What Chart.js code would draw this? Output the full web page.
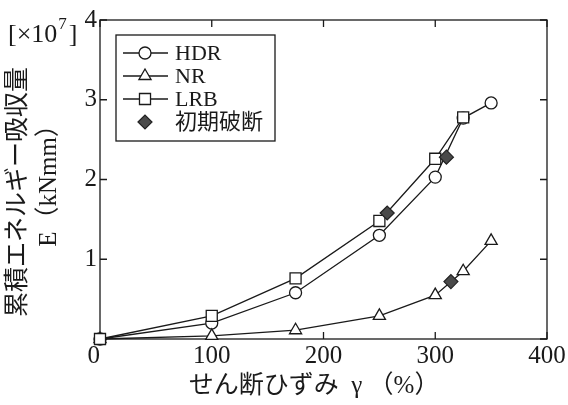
<!DOCTYPE html>
<html>
<head>
<meta charset="utf-8">
<script src="https://cdn.jsdelivr.net/npm/chart.js@4"></script>
<style>
  html, body { margin: 0; padding: 0; background: #fff; }
  #wrap { width: 568px; height: 405px; }
</style>
</head>
<body>
<div id="wrap"><canvas id="chart-energy"></canvas></div>
<script>
// strain (%) on x, accumulated energy (x10^7 kNmm) on y
var strainTicks = [0, 100, 200, 300, 400];
var energyTicks = [0, 1, 2, 3, 4];

var hdrStrain = [0, 100, 175, 250, 300, 325, 350];
var hdrEnergy = [0, 0.20, 0.58, 1.30, 2.03, 2.77, 2.96];
var nrStrain = [0, 100, 175, 250, 300, 325, 350];
var nrEnergy = [0, 0.04, 0.11, 0.29, 0.55, 0.85, 1.23];
var lrbStrain = [0, 100, 175, 250, 300, 325];
var lrbEnergy = [0, 0.29, 0.76, 1.48, 2.26, 2.78];
var breakStrain = [257, 310, 314];
var breakEnergy = [1.58, 2.28, 0.72];

var serif = "'Liberation Serif', 'Noto Sans CJK JP', serif";
var ink = '#1a1a1a';

function toPoints(xs, ys) {
  return xs.map(function(x, i) { return { x: x, y: ys[i] }; });
}

// box around the plot with inward ticks on all four sides
var framePlugin = {
  id: 'frame',
  beforeDatasetsDraw: function(chart) {
    var ctx = chart.ctx, a = chart.chartArea;
    var xs = chart.scales.x, ys = chart.scales.y;
    var len = 7;
    ctx.save();
    ctx.strokeStyle = ink;
    ctx.lineWidth = 1.3;
    ctx.strokeRect(a.left, a.top, a.right - a.left, a.bottom - a.top);
    ctx.beginPath();
    strainTicks.forEach(function(v) {
      var px = xs.getPixelForValue(v);
      ctx.moveTo(px, a.bottom); ctx.lineTo(px, a.bottom - len);
      ctx.moveTo(px, a.top); ctx.lineTo(px, a.top + len);
    });
    energyTicks.forEach(function(v) {
      var py = ys.getPixelForValue(v);
      ctx.moveTo(a.left, py); ctx.lineTo(a.left + len, py);
      ctx.moveTo(a.right, py); ctx.lineTo(a.right - len, py);
    });
    ctx.stroke();

    // unit label [x10^7]
    ctx.fillStyle = ink;
    ctx.textBaseline = 'alphabetic';
    ctx.font = '26px ' + serif;
    var t1 = '[\u00d710';
    ctx.fillText(t1, 8, 42);
    var w1 = ctx.measureText(t1).width;
    ctx.font = '17px ' + serif;
    ctx.fillText('7', 8 + w1 + 1, 29);
    var w2 = ctx.measureText('7').width;
    ctx.font = '26px ' + serif;
    ctx.fillText(']', 8 + w1 + w2 + 3, 42);
    ctx.restore();
  }
};

// boxed legend inside the plot, line + marker samples
var legendPlugin = {
  id: 'boxLegend',
  afterDraw: function(chart) {
    var ctx = chart.ctx, a = chart.chartArea;
    var x0 = a.left + 16, y0 = a.top + 15, w = 159, h = 106;
    ctx.save();
    ctx.strokeStyle = ink;
    ctx.lineWidth = 1.3;
    ctx.fillStyle = '#fff';
    ctx.fillRect(x0, y0, w, h);
    ctx.strokeRect(x0, y0, w, h);
    chart.data.datasets.forEach(function(ds, i) {
      var y = y0 + 18 + i * 23;
      ctx.strokeStyle = ds.borderColor;
      ctx.lineWidth = 1.3;
      if (ds.showLine) {
        ctx.beginPath();
        ctx.moveTo(x0 + 7, y);
        ctx.lineTo(x0 + 52, y);
        ctx.stroke();
      }
      ctx.fillStyle = ds.pointBackgroundColor;
      ctx.strokeStyle = ds.pointBorderColor;
      ctx.lineWidth = ds.pointBorderWidth;
      Chart.helpers.drawPoint(ctx, {
        pointStyle: ds.pointStyle,
        radius: ds.pointRadius,
        borderWidth: ds.pointBorderWidth,
        rotation: 0
      }, x0 + 29, y);
      ctx.fillStyle = ink;
      ctx.font = '22px ' + serif;
      ctx.textBaseline = 'middle';
      ctx.fillText(ds.label, x0 + 59, y + 1);
    });
    ctx.restore();
  }
};

function lineSet(label, xs, ys, style, radius, order) {
  return {
    label: label,
    data: toPoints(xs, ys),
    showLine: true,
    borderColor: ink,
    borderWidth: 1.3,
    pointStyle: style,
    pointRadius: radius,
    pointHoverRadius: radius,
    pointBackgroundColor: '#fff',
    pointBorderColor: ink,
    pointBorderWidth: 1.3,
    clip: false,
    order: order
  };
}

new Chart(document.getElementById('chart-energy'), {
  type: 'scatter',
  data: {
    datasets: [
      lineSet('HDR', hdrStrain, hdrEnergy, 'circle', 6, 3),
      lineSet('NR', nrStrain, nrEnergy, 'triangle', 7, 2),
      lineSet('LRB', lrbStrain, lrbEnergy, 'rect', 7.8, 1),
      {
        label: '初期破断',
        data: toPoints(breakStrain, breakEnergy),
        showLine: false,
        borderColor: ink,
        pointStyle: 'rectRot',
        pointRadius: 7,
        pointHoverRadius: 7,
        pointBackgroundColor: '#4a4a4a',
        pointBorderColor: '#222',
        pointBorderWidth: 1.2,
        clip: false,
        order: 0
      }
    ]
  },
  options: {
    responsive: true,
    maintainAspectRatio: false,
    animation: false,
    layout: { padding: { top: 20, right: 21, left: 0, bottom: 0 } },
    plugins: {
      legend: { display: false },
      tooltip: { enabled: false }
    },
    scales: {
      x: {
        type: 'linear',
        min: 0,
        max: 400,
        afterFit: function(scale) { scale.height = 66; },
        afterBuildTicks: function(scale) {
          scale.ticks = strainTicks.map(function(v) { return { value: v }; });
        },
        grid: { display: false, drawTicks: false },
        border: { display: false },
        ticks: {
          color: ink,
          padding: 2,
          maxRotation: 0,
          font: { family: serif, size: 25 },
          callback: function(v) { return v === 0 ? '0\u2002' : v; }
        },
        title: {
          display: true,
          text: 'せん断ひずみ\u2002γ （%）   ',
          color: ink,
          padding: { top: 0, bottom: 4 },
          font: { family: serif, size: 25, lineHeight: 1.2 }
        }
      },
      y: {
        type: 'linear',
        min: 0,
        max: 4,
        afterFit: function(scale) { scale.width = 100; },
        afterBuildTicks: function(scale) {
          scale.ticks = energyTicks.map(function(v) { return { value: v }; });
        },
        grid: { display: false, drawTicks: false },
        border: { display: false },
        ticks: {
          color: ink,
          padding: 3,
          font: { family: serif, size: 25 },
          callback: function(v) { return v === 0 ? '' : v; }
        },
        title: {
          display: true,
          text: ['累積エネルギー吸収量\u3000', 'E（kNmm）'],
          color: ink,
          padding: { top: 3, bottom: 0 },
          font: { family: serif, size: 25, lineHeight: 1.25 }
        }
      }
    }
  },
  plugins: [framePlugin, legendPlugin]
});
</script>
</body>
</html>
